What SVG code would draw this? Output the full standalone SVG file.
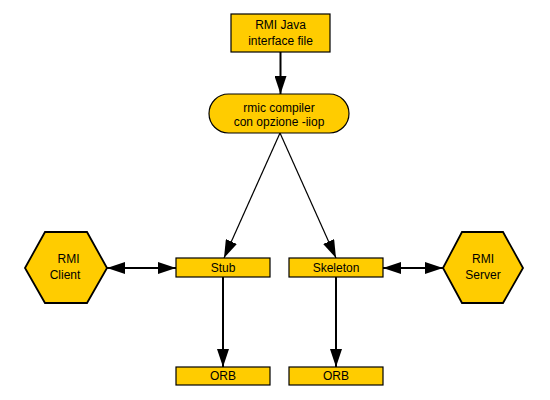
<svg xmlns="http://www.w3.org/2000/svg" width="550" height="400" viewBox="0 0 550 400">
<style>
.n{fill:#FFCC00;stroke:#000;stroke-width:1.2}
.h{fill:#FFCC00;stroke:#000;stroke-width:1.8}
text{font-family:"Liberation Sans",Arial,sans-serif;font-size:12px;fill:#000;text-anchor:middle}
.c{stroke:#000;fill:none}
.t{stroke-width:2}
.s{stroke-width:1.2}
</style>
<defs>
<marker id="ah" markerUnits="userSpaceOnUse" markerWidth="18" markerHeight="12" refX="18" refY="6" orient="auto-start-reverse" viewBox="0 0 18 12">
<path d="M0,0 L18,6 L0,12 z" fill="#000"/>
</marker>
</defs>
<rect width="550" height="400" fill="#fff"/>
<g id="connectors">
<line class="c t" x1="280.5" y1="52" x2="280.5" y2="94" marker-end="url(#ah)"/>
<line class="c s" x1="280" y1="133" x2="224" y2="258" marker-end="url(#ah)"/>
<line class="c s" x1="280" y1="133" x2="336" y2="258" marker-end="url(#ah)"/>
<line class="c t" x1="223" y1="277" x2="223" y2="367" marker-end="url(#ah)"/>
<line class="c t" x1="336" y1="277" x2="336" y2="367" marker-end="url(#ah)"/>
<line class="c t" x1="107" y1="268" x2="176" y2="268" marker-start="url(#ah)" marker-end="url(#ah)"/>
<line class="c t" x1="383" y1="268" x2="443" y2="268" marker-start="url(#ah)" marker-end="url(#ah)"/>
</g>
<g id="interface">
<rect class="n" x="231" y="14" width="99" height="38"/>
<text x="280.5" y="29">RMI Java</text>
<text x="280.5" y="45">interface file</text>
</g>
<g id="rmic">
<rect class="n" x="209" y="94" width="140" height="39" rx="19.5" ry="19.5"/>
<text x="279" y="112">rmic compiler</text>
<text x="279" y="126">con opzione -iiop</text>
</g>
<g id="client">
<polygon class="h" points="25,268 45,232 87,232 107,268 87,303 45,303"/>
<text x="68.5" y="263">RMI</text>
<text x="65" y="279">Client</text>
</g>
<g id="stub">
<rect class="n" x="176" y="258" width="94" height="19"/>
<text x="223" y="272">Stub</text>
</g>
<g id="skeleton">
<rect class="n" x="289" y="258" width="94" height="19"/>
<text x="336" y="272">Skeleton</text>
</g>
<g id="server">
<polygon class="h" points="443,268 462,232 503,232 523,268 503,303 462,303"/>
<text x="483" y="263">RMI</text>
<text x="483" y="279">Server</text>
</g>
<g id="orb1">
<rect class="n" x="176" y="367" width="94" height="18"/>
<text x="223" y="380">ORB</text>
</g>
<g id="orb2">
<rect class="n" x="289" y="367" width="94" height="18"/>
<text x="336" y="380">ORB</text>
</g>
</svg>
